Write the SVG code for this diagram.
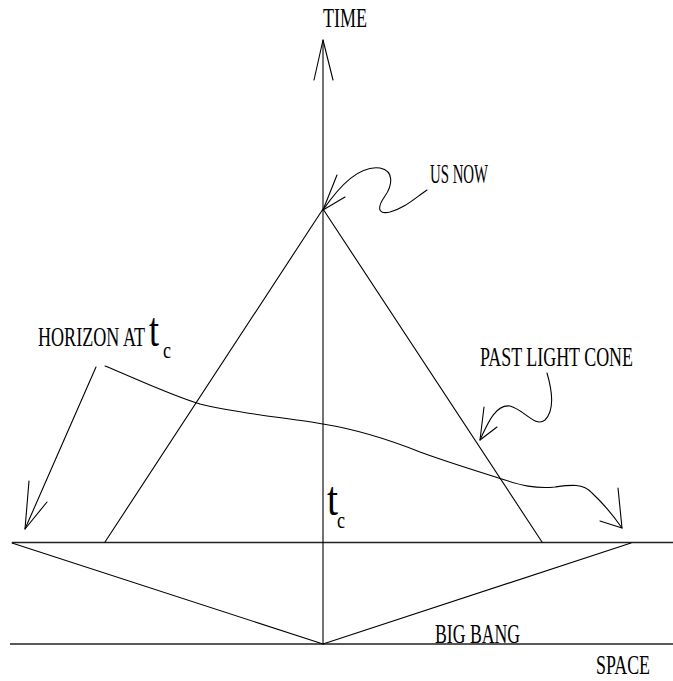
<svg xmlns="http://www.w3.org/2000/svg" width="673" height="681" viewBox="0 0 673 681">
<style>
.l{fill:none;stroke:#000;stroke-width:1.1;stroke-linecap:round;stroke-linejoin:round}
.h{fill:none;stroke:#222;stroke-width:1.6}
text{font-family:"Liberation Serif","Times New Roman",serif;fill:#000}
.lab{font-size:27px}
</style>
<rect width="673" height="681" fill="#fff"/>
<g id="connectors">
<path class="h" d="M12,542.5 H673"/>
<path class="h" d="M10,644 H673"/>
<path class="l" d="M323,40 V644"/>
<path class="l" d="M314,80 L323,40 L333,80"/>
<path class="l" d="M105,542 L323,209 L542,542"/>
<path class="l" d="M12,543 L323,644 L631,543"/>
<path class="l" d="M323,210 C340,185 360,165 380,168 C395,171 392,186 385,196 C378,206 376,215 390,212 C405,208 415,198 427,190"/>
<path class="l" d="M337,175 L323,210 L345,197"/>
<path class="l" d="M96,367 L25,529"/>
<path class="l" d="M29,481 L25,529 L47,502"/>
<path class="l" d="M105,366 C130,376 170,395 200,404 C240,414 290,418 323,424 C360,430 390,440 420,452 C450,463 480,472 505,480 C520,485 535,489 555,487 C570,485 583,483 592,493 C605,505 615,518 622,528"/>
<path class="l" d="M618,488 L622,528 L600,521"/>
<path class="l" d="M547,373 C552,390 555,410 545,420 C535,428 525,410 510,406 C495,404 487,425 480,440"/>
<path class="l" d="M484,407 L480,440 L497,427"/>
</g>
<g id="time"><text class="lab" x="323" y="27" textLength="44" lengthAdjust="spacingAndGlyphs">TIME</text></g>
<g id="usnow"><text class="lab" x="430" y="183" textLength="58" lengthAdjust="spacingAndGlyphs">US NOW</text></g>
<g id="horizon"><text class="lab" x="38" y="346" textLength="107" lengthAdjust="spacingAndGlyphs">HORIZON AT</text>
<text x="149" y="346" font-size="48" textLength="10" lengthAdjust="spacingAndGlyphs">t</text>
<text x="163" y="358" font-size="24" textLength="8" lengthAdjust="spacingAndGlyphs">c</text></g>
<g id="pastlightcone"><text class="lab" x="480" y="366" textLength="153" lengthAdjust="spacingAndGlyphs">PAST LIGHT CONE</text></g>
<g id="tc"><text x="327" y="515" font-size="48" textLength="11" lengthAdjust="spacingAndGlyphs">t</text>
<text x="337" y="528" font-size="24" textLength="8" lengthAdjust="spacingAndGlyphs">c</text></g>
<g id="bigbang"><text class="lab" x="435" y="643" font-size="25" textLength="85" lengthAdjust="spacingAndGlyphs">BIG BANG</text></g>
<g id="space"><text class="lab" x="596" y="674" textLength="54" lengthAdjust="spacingAndGlyphs">SPACE</text></g>
</svg>
